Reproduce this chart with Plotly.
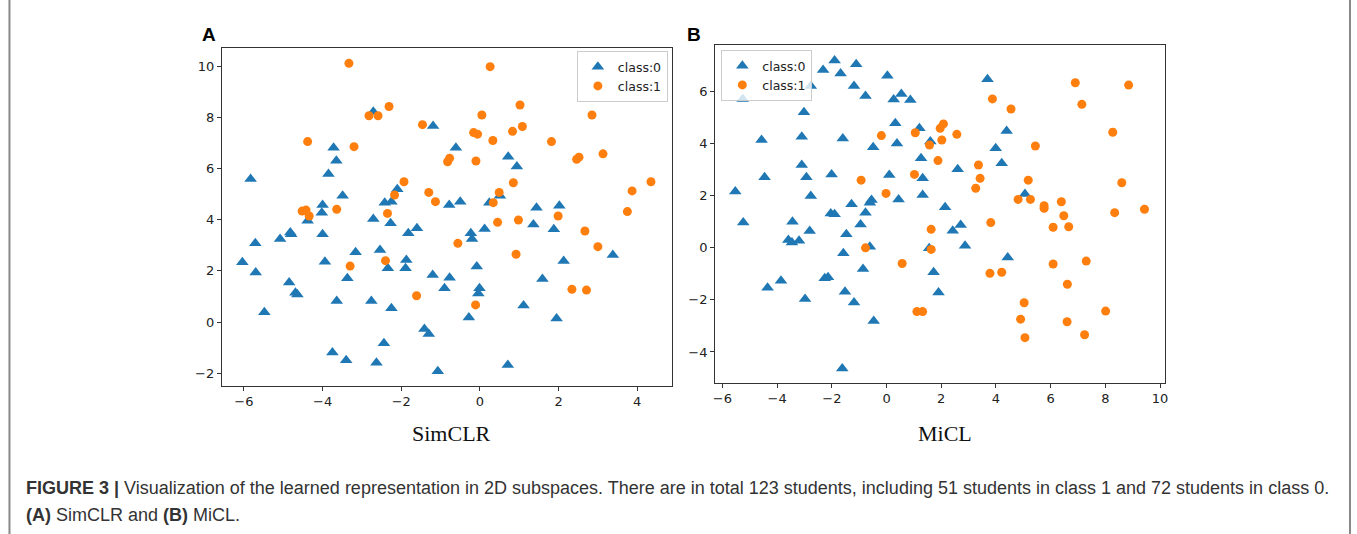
import plotly.graph_objects as go

# ---------------- data ----------------
simclr_c0_x = [-2.71, -5.83, -3.72, -3.65, -3.85, -3.49, -4.00, -4.02, -2.42, -2.25, -2.10, -2.71,
               -4.38, -5.71, -6.04, -5.70, -5.48, -5.08, -4.82, -4.80, -4.85, -4.69, -4.64, -4.00,
               -3.94, -3.37, -3.64, -3.16, -3.75, -3.40, -2.54, -2.34, -2.76, -2.25, -2.44, -2.63,
               -2.27, -1.82, -1.60, -1.87, -1.89, -1.19, -0.61, 0.72, 0.94, -0.78, -0.50, 0.24,
               0.51, 1.44, 2.02, -0.23, -0.20, 0.12, 1.36, 1.88, -0.08, -1.20, -0.77, -0.90,
               -0.01, -0.04, 2.13, 1.59, 3.38, 1.11, -0.28, 1.95, -1.41, -1.30, 0.71, -1.07]
simclr_c0_y = [8.23, 5.60, 6.82, 6.31, 5.79, 4.94, 4.58, 4.28, 4.67, 4.71, 5.19, 4.03,
               3.96, 3.08, 2.34, 1.94, 0.38, 3.25, 3.50, 3.43, 1.55, 1.15, 1.08, 3.43,
               2.36, 1.71, 0.82, 2.73, -1.19, -1.49, 2.82, 2.10, 0.82, 0.54, -0.83, -1.59,
               3.86, 3.47, 3.67, 2.43, 2.10, 7.67, 6.82, 6.47, 6.08, 4.58, 4.71, 4.67,
               4.94, 4.47, 4.55, 3.47, 3.25, 3.64, 3.82, 3.63, 2.17, 1.84, 1.73, 1.32,
               1.32, 1.12, 2.39, 1.68, 2.62, 0.65, 0.18, 0.14, -0.27, -0.47, -1.68, -1.92]
simclr_c1_x = [-3.33, -2.82, -2.59, -2.31, -4.38, -3.20, -1.93, -2.17, -2.35, -4.52, -4.42, -4.34,
               -3.64, -1.46, -3.30, -2.40, -1.61, 0.26, 1.02, 0.05, 1.08, 0.83, -0.16, -0.06,
               0.33, 2.85, 1.82, -0.82, -0.77, -0.10, 2.46, 2.52, 3.13, 0.85, -1.30, -1.13,
               0.49, 0.34, 3.87, 4.35, 3.75, 1.99, 0.45, 0.98, 2.67, 3.00, -0.56, 0.92,
               2.34, 2.71, -0.11]
simclr_c1_y = [10.12, 8.07, 8.07, 8.43, 7.06, 6.86, 5.49, 4.97, 4.25, 4.34, 4.38, 4.15,
               4.41, 7.72, 2.19, 2.40, 1.03, 9.99, 8.49, 8.10, 7.65, 7.46, 7.41, 7.35,
               7.10, 8.10, 7.06, 6.27, 6.41, 6.30, 6.37, 6.45, 6.58, 5.45, 5.07, 4.71,
               5.07, 4.67, 5.13, 5.49, 4.32, 4.15, 3.90, 3.99, 3.56, 2.95, 3.08, 2.65,
               1.28, 1.25, 0.67]

micl_c0_x = [-5.26, -5.53, -4.57, -4.46, -3.02, -3.10, -3.10, -2.93, -2.77, -2.77, -2.32, -1.90,
             -1.68, -1.11, -1.19, -0.77, 0.03, 0.26, 0.54, 0.87, 0.32, 1.20, -1.60, -0.49,
             0.38, 1.26, -2.01, 0.10, 1.32, 1.32, -0.55, -0.61, 0.44, -1.28, -2.04, -1.90,
             -0.77, -5.24, -3.44, -3.59, -3.46, -3.20, -2.81, -4.35, -3.86, -2.98, -2.26, -2.14,
             -1.47, -0.95, -1.58, -0.61, -0.86, -1.52, -1.19, -0.47, -1.62, 3.69, 4.39, 3.99,
             4.21, 1.60, 2.60, 2.14, 5.06, 1.56, 2.42, 2.71, 2.87, 4.43, 1.72, 1.90]
micl_c0_y = [5.72, 2.16, 4.14, 2.71, 5.21, 4.27, 3.18, 2.71, 1.99, 6.22, 6.83, 7.19,
             6.70, 7.05, 6.22, 5.83, 6.61, 5.70, 5.91, 5.68, 4.78, 4.59, 4.20, 3.86,
             4.01, 3.44, 2.82, 2.80, 2.67, 2.03, 1.84, 1.73, 1.86, 1.67, 1.32, 1.29,
             1.35, 0.97, 1.00, 0.30, 0.20, 0.27, 0.65, -1.53, -1.26, -1.97, -1.17, -1.13,
             0.52, 0.90, -0.21, 0.04, -0.81, -1.69, -2.10, -2.81, -4.63, 6.47, 4.49, 3.82,
             3.25, 4.08, 3.02, 1.56, 2.07, -0.02, 0.66, 0.88, 0.08, -0.37, -0.94, -1.72]
micl_c1_x = [-0.19, 1.05, 1.57, -0.93, -0.02, 1.02, -0.77, 0.57, 1.11, 1.32, 1.63, 6.90,
             8.85, 3.87, 4.55, 7.14, 8.27, 1.96, 2.08, 2.57, 2.02, 1.88, 5.44, 3.36,
             3.42, 3.26, 5.18, 8.60, 4.81, 5.26, 5.76, 5.76, 6.39, 6.48, 8.34, 9.43,
             6.66, 6.09, 3.81, 1.63, 3.78, 4.21, 6.09, 7.30, 6.61, 5.03, 4.90, 5.06,
             6.60, 7.24, 8.01]
micl_c1_y = [4.31, 4.42, 3.95, 2.60, 2.09, 2.82, 0.00, -0.60, -2.45, -2.45, 0.71, 6.34,
             6.25, 5.72, 5.33, 5.51, 4.44, 4.59, 4.76, 4.36, 4.14, 3.35, 3.91, 3.18,
             2.67, 2.29, 2.60, 2.50, 1.86, 1.86, 1.62, 1.52, 1.77, 1.23, 1.35, 1.48,
             0.81, 0.79, 0.97, -0.06, -0.98, -0.94, -0.62, -0.51, -1.40, -2.11, -2.74, -3.45,
             -2.84, -3.34, -2.43]

class_labels = ["class:0", "class:1"]
panel_titles = ["SimCLR", "MiCL"]
panel_letters = ["A", "B"]
caption_line1 = ("<b>FIGURE 3 |</b> Visualization of the learned representation in 2D subspaces. "
                 "There are in total 123 students, including 51 students in class 1 and 72 students in class 0.")
caption_line2 = "<b>(A)</b> SimCLR and <b>(B)</b> MiCL."

# ---------------- figure ----------------
W, H = 1357, 534
BLUE = "#1f77b4"
ORANGE = "#ff7f0e"
TICKFONT = dict(family="DejaVu Sans", size=13, color="#222222")


def px(x):
    return x / W


def py(y):
    return 1 - y / H


fig = go.Figure()

tri = dict(symbol="triangle-up", size=11, color=BLUE)
dot = dict(symbol="circle", size=9, color=ORANGE)

fig.add_trace(go.Scatter(x=simclr_c0_x, y=simclr_c0_y, mode="markers", marker=tri,
                         name=class_labels[0], xaxis="x", yaxis="y", legend="legend"))
fig.add_trace(go.Scatter(x=simclr_c1_x, y=simclr_c1_y, mode="markers", marker=dot,
                         name=class_labels[1], xaxis="x", yaxis="y", legend="legend"))
fig.add_trace(go.Scatter(x=micl_c0_x, y=micl_c0_y, mode="markers", marker=tri,
                         name=class_labels[0], xaxis="x2", yaxis="y2", legend="legend2"))
fig.add_trace(go.Scatter(x=micl_c1_x, y=micl_c1_y, mode="markers", marker=dot,
                         name=class_labels[1], xaxis="x2", yaxis="y2", legend="legend2"))

axis_common = dict(showline=True, linecolor="#333333", linewidth=1, mirror=True,
                   ticks="outside", ticklen=4, tickcolor="#333333", tickwidth=1,
                   showgrid=False, zeroline=False, tickfont=TICKFONT, dtick=2, tick0=0)

legend_common = dict(font=dict(family="DejaVu Sans", size=12.5, color="#222222"),
                     bgcolor="rgba(255,255,255,0.8)", bordercolor="#cccccc", borderwidth=1,
                     xanchor="left", yanchor="top", itemwidth=30, tracegroupgap=0)

fig.update_layout(
    width=W, height=H,
    margin=dict(l=0, r=0, t=0, b=0),
    paper_bgcolor="white", plot_bgcolor="white",
    xaxis=dict(domain=[px(220.7), px(672.3)], range=[-6.56, 4.88], anchor="y", **axis_common),
    yaxis=dict(domain=[py(385.7), py(48)], range=[-2.49, 10.72], anchor="x", **axis_common),
    xaxis2=dict(domain=[px(715.7), px(1167.3)], range=[-6.27, 10.18], anchor="y2", **axis_common),
    yaxis2=dict(domain=[py(382.7), py(45)], range=[-5.18, 7.79], anchor="x2", **axis_common),
    legend=dict(x=px(577), y=py(51), **legend_common),
    legend2=dict(x=px(722), y=py(50), **legend_common),
    showlegend=True,
)

annotations = [
    dict(text="<b>%s</b>" % panel_letters[0], x=px(199), y=py(34), xanchor="left", yanchor="middle",
         font=dict(family="Liberation Sans", size=19, color="#000000")),
    dict(text="<b>%s</b>" % panel_letters[1], x=px(686), y=py(34), xanchor="left", yanchor="middle",
         font=dict(family="Liberation Sans", size=19, color="#000000")),
    dict(text=panel_titles[0], x=px(451), y=py(433), xanchor="center", yanchor="middle",
         font=dict(family="Liberation Serif", size=22, color="#111111")),
    dict(text=panel_titles[1], x=px(946), y=py(433), xanchor="center", yanchor="middle",
         font=dict(family="Liberation Serif", size=22, color="#111111")),
    dict(text=caption_line1, x=px(22), y=py(488), xanchor="left", yanchor="middle",
         font=dict(family="Liberation Sans", size=18, color="#333333")),
    dict(text=caption_line2, x=px(22), y=py(515), xanchor="left", yanchor="middle",
         font=dict(family="Liberation Sans", size=18, color="#333333")),
]
for a in annotations:
    a.update(xref="paper", yref="paper", showarrow=False)
fig.update_layout(annotations=annotations)

fig.add_shape(type="line", xref="paper", yref="paper", x0=px(7.5), x1=px(7.5), y0=0, y1=1,
              line=dict(color="#888888", width=2))
fig.add_shape(type="line", xref="paper", yref="paper", x0=px(1353), x1=px(1353), y0=0, y1=1,
              line=dict(color="#888888", width=2))

fig.write_html("out.html", config={"displayModeBar": False},
               post_script="document.body.style.margin='0px';document.body.style.padding='0px';")
